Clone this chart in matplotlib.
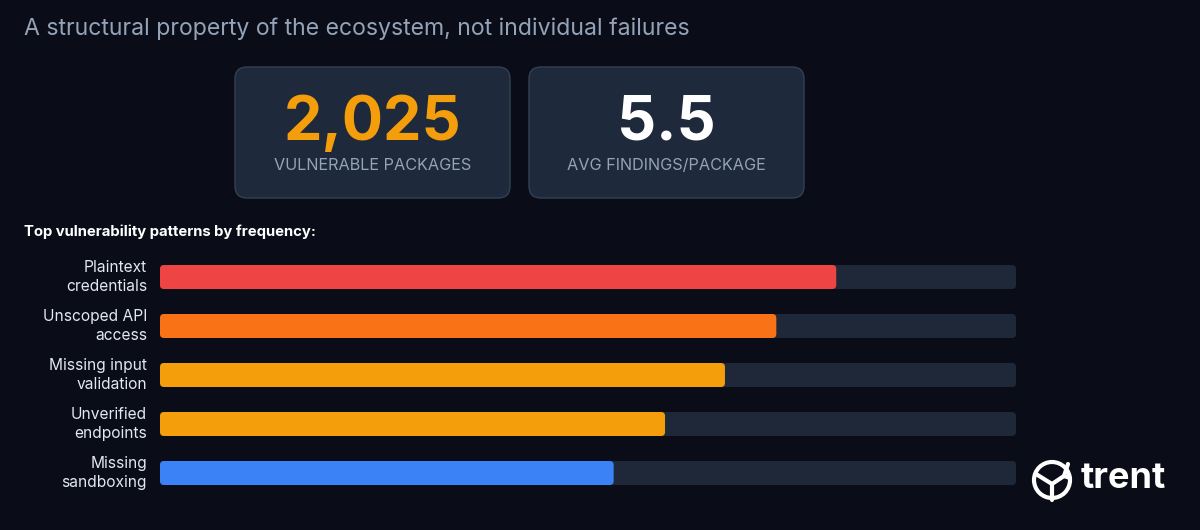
import matplotlib.pyplot as plt
from matplotlib.patches import FancyBboxPatch, Circle

plt.rcParams['font.family'] = ['Inter', 'DejaVu Sans']

# data
title = "A structural property of the ecosystem, not individual failures"
stat_values = ["2,025", "5.5"]
stat_labels = ["VULNERABLE PACKAGES", "AVG FINDINGS/PACKAGE"]
stat_colors = ["#f59e0b", "#ffffff"]
subtitle = "Top vulnerability patterns by frequency:"
patterns = ["Plaintext\ncredentials", "Unscoped API\naccess", "Missing input\nvalidation",
            "Unverified\nendpoints", "Missing\nsandboxing"]
shares = [0.79, 0.72, 0.66, 0.59, 0.53]
bar_colors = ["#ef4444", "#f97316", "#f59e0b", "#f59e0b", "#3b82f6"]

BG = "#0a0d17"
CARD = "#1e293b"
TRACK = "#1e2838"

W, H = 1200, 530
fig = plt.figure(figsize=(W / 100, H / 100), dpi=100, facecolor=BG)

# base layer in pixel coords
base = fig.add_axes([0, 0, 1, 1])
base.set_xlim(0, W)
base.set_ylim(H, 0)
base.axis('off')
base.set_facecolor(BG)

base.text(24, 29, title, color="#94a3b8", fontsize=16.6, va='center', ha='left')

card_x = [235, 529]
for cx, val, lab, col in zip(card_x, stat_values, stat_labels, stat_colors):
    base.add_patch(FancyBboxPatch((cx, 67), 275, 131,
                                  boxstyle="round,pad=0,rounding_size=12",
                                  facecolor=CARD, edgecolor="#334155", linewidth=1))
    base.text(cx + 137.5, 124, val, color=col, fontsize=44, fontweight='bold',
              ha='center', va='center')
    base.text(cx + 137.5, 165, lab, color="#94a3b8", fontsize=11.7,
              ha='center', va='center')

base.text(24, 232, subtitle, color="#ffffff", fontsize=10.7, fontweight='bold',
          ha='left', va='center')

# logo
base.add_patch(Circle((1052, 480), 18, facecolor='none', edgecolor='white', linewidth=3))
base.plot([1052, 1052, 1036], [500, 484, 474], color='white', lw=3, solid_capstyle='round')
base.plot([1052, 1064, 1068], [484, 476, 464], color='white', lw=3, solid_capstyle='round')
base.plot([1064, 1070], [476, 478], color='white', lw=3, solid_capstyle='round')
base.text(1081, 479, "trent", color='white', fontsize=26, fontweight='bold',
          ha='left', va='center')

# bar layer
left, right = 160, 1016
top, bottom = 252.5, 497.5
ax = fig.add_axes([left / W, 1 - bottom / H, (right - left) / W, (bottom - top) / H])
ax.set_xlim(0, 1)
ax.set_ylim(len(patterns) - 0.5, -0.5)
ax.axis('off')
ax.patch.set_alpha(0)

bh = 24 / 49
px_x = 1 / (right - left)
aspect = (right - left) / 49
for i, (name, v, c) in enumerate(zip(patterns, shares, bar_colors)):
    ax.add_patch(FancyBboxPatch((0, i - bh / 2), 1, bh,
                                boxstyle=f"round,pad=0,rounding_size={4 * px_x}",
                                mutation_aspect=aspect, facecolor=TRACK, edgecolor='none'))
    ax.add_patch(FancyBboxPatch((0, i - bh / 2), v, bh,
                                boxstyle=f"round,pad=0,rounding_size={4 * px_x}",
                                mutation_aspect=aspect, facecolor=c, edgecolor='none'))
    ax.text(-13 * px_x, i, name, color="#e2e8f0", fontsize=11.2, ha='right', va='center',
            linespacing=1.3)

fig.savefig("out.png", dpi=100, facecolor=BG)
